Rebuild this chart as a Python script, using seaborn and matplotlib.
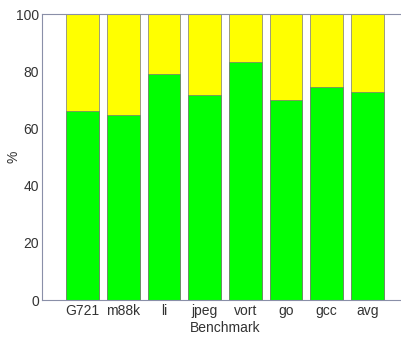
import matplotlib
matplotlib.use("Agg")
import matplotlib.pyplot as plt
import numpy as np
import pandas as pd
import seaborn as sns

benchmarks = ["G721", "m88k", "li", "jpeg", "vort", "go", "gcc", "avg"]
green_pct = [66.1, 64.7, 79.0, 71.7, 83.2, 69.9, 74.5, 72.7]
total_pct = [100, 100, 100, 100, 100, 100, 100, 100]

df = pd.DataFrame({"bench": benchmarks, "green": green_pct, "total": total_pct})

sns.set_style("white")
plt.rcParams['font.family'] = ['Liberation Sans', 'DejaVu Sans']

fig = plt.figure(figsize=(4.01, 3.37), dpi=100)
ax = fig.add_axes([42 / 401, 1 - 300 / 337, 366 / 401, 286 / 337])

sns.barplot(data=df, x="bench", y="total", color="#ffff00", width=0.8,
            edgecolor="#777777", linewidth=0.5, saturation=1, ax=ax)
sns.barplot(data=df, x="bench", y="green", color="#00ff00", width=0.8,
            edgecolor="#777777", linewidth=0.5, saturation=1, ax=ax)

ax.set_xlim(-1, 8)
ax.set_ylim(0, 100)
ax.set_yticks([0, 20, 40, 60, 80, 100])
ax.tick_params(axis="both", labelsize=10, colors="#333333", direction="in",
               length=2, pad=2)
ax.tick_params(axis="x", length=0, pad=3)
for s in ax.spines.values():
    s.set_color("#8a8fa8")
    s.set_linewidth(0.8)
ax.set_xlabel("Benchmark", fontsize=10, color="#333333")
ax.xaxis.set_label_coords(0.5, -0.075)
ax.set_ylabel("%", fontsize=10, color="#333333")
ax.yaxis.set_label_coords(-0.06, 0.5)

fig.savefig("out.png", dpi=100)
